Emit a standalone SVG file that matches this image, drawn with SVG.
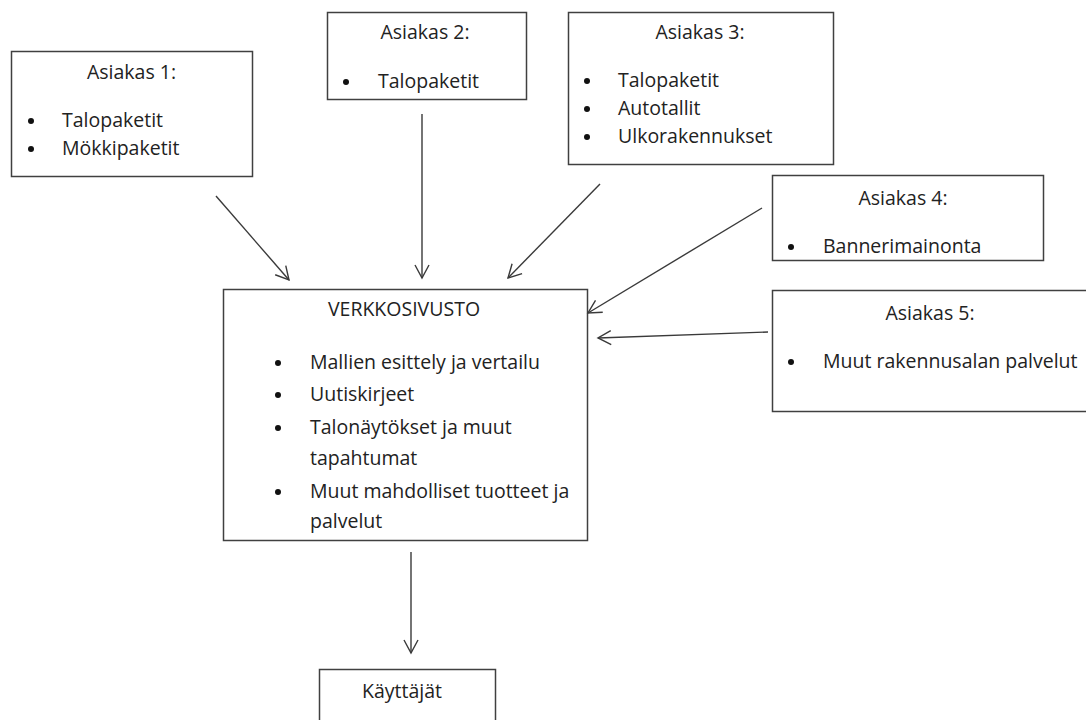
<svg xmlns="http://www.w3.org/2000/svg" width="1086" height="720" viewBox="0 0 1086 720">
<defs>
<marker id="arr" viewBox="-15 -9 17 18" refX="0" refY="0" markerWidth="17" markerHeight="18" markerUnits="userSpaceOnUse" orient="auto">
<path d="M-13,-7 L0,0 L-13,7" fill="none" stroke="#3a3a3a" stroke-width="1.4"/>
</marker>
<style>
.box{fill:#fff;stroke:#404040;stroke-width:1.5}
.t{font-family:"Open Sans","Liberation Sans",sans-serif;font-size:19.5px;fill:#222}
.c{text-anchor:middle}
.conn line{stroke:#3a3a3a;stroke-width:1.4;marker-end:url(#arr)}
</style>
</defs>
<rect width="1086" height="720" fill="#fff"/>
<g id="asiakas1">
<rect class="box" x="11.5" y="51.5" width="241" height="125"/>
<text class="t c" x="131.5" y="79">Asiakas 1:</text>
<circle cx="31" cy="121" r="3" fill="#111"/>
<text class="t" x="62" y="127">Talopaketit</text>
<circle cx="31" cy="149" r="3" fill="#111"/>
<text class="t" x="62" y="155">Mökkipaketit</text>
</g>
<g id="asiakas2">
<rect class="box" x="327.5" y="12.5" width="199" height="87"/>
<text class="t c" x="425" y="39">Asiakas 2:</text>
<circle cx="346" cy="82" r="3" fill="#111"/>
<text class="t" x="378" y="88">Talopaketit</text>
</g>
<g id="asiakas3">
<rect class="box" x="568.5" y="12.5" width="265" height="152"/>
<text class="t c" x="700" y="39">Asiakas 3:</text>
<circle cx="587" cy="81" r="3" fill="#111"/>
<text class="t" x="618" y="87">Talopaketit</text>
<circle cx="587" cy="109" r="3" fill="#111"/>
<text class="t" x="618" y="115">Autotallit</text>
<circle cx="587" cy="137" r="3" fill="#111"/>
<text class="t" x="618" y="143">Ulkorakennukset</text>
</g>
<g id="asiakas4">
<rect class="box" x="772.5" y="175.5" width="271" height="85"/>
<text class="t c" x="903" y="205">Asiakas 4:</text>
<circle cx="791" cy="247" r="3" fill="#111"/>
<text class="t" x="823" y="253">Bannerimainonta</text>
</g>
<g id="asiakas5">
<rect class="box" x="772.5" y="290.5" width="320" height="121"/>
<text class="t c" x="930" y="320">Asiakas 5:</text>
<circle cx="791" cy="362" r="3" fill="#111"/>
<text class="t" x="823" y="368">Muut rakennusalan palvelut</text>
</g>
<g id="verkkosivusto">
<rect class="box" x="223.5" y="289.5" width="364" height="251"/>
<text class="t c" x="404" y="316">VERKKOSIVUSTO</text>
<circle cx="278" cy="363" r="3" fill="#111"/>
<text class="t" x="310" y="369">Mallien esittely ja vertailu</text>
<circle cx="278" cy="395" r="3" fill="#111"/>
<text class="t" x="310" y="401">Uutiskirjeet</text>
<circle cx="278" cy="428" r="3" fill="#111"/>
<text class="t" x="310" y="434">Talonäytökset ja muut</text>
<text class="t" x="310" y="465">tapahtumat</text>
<circle cx="278" cy="492" r="3" fill="#111"/>
<text class="t" x="310" y="498">Muut mahdolliset tuotteet ja</text>
<text class="t" x="310" y="528">palvelut</text>
</g>
<g id="kayttajat">
<rect class="box" x="319.5" y="669.5" width="176" height="70"/>
<text class="t c" x="402" y="698">Käyttäjät</text>
</g>
<g id="connectors" class="conn">
<line x1="216" y1="196" x2="289" y2="280"/>
<line x1="422" y1="114" x2="422" y2="278"/>
<line x1="600" y1="184" x2="508" y2="278"/>
<line x1="762" y1="208" x2="588" y2="313"/>
<line x1="768" y1="332" x2="598" y2="338"/>
<line x1="411" y1="552" x2="411" y2="653"/>
</g>
</svg>
